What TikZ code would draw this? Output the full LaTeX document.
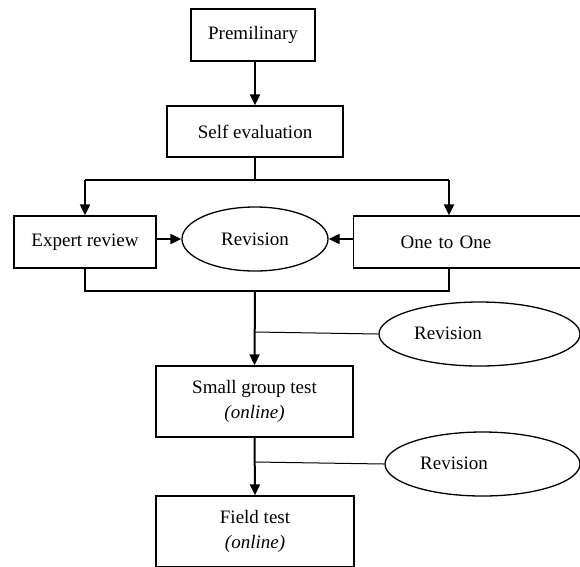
\documentclass[tikz,border=0pt]{standalone}
\usepackage{fontspec}
\setmainfont{Liberation Serif}
\usetikzlibrary{arrows.meta}
\usetikzlibrary{shapes}

\begin{document}
\begin{tikzpicture}[x=1pt,y=1pt,yscale=-1,xscale=1,
  box/.style={draw,line width=1.3pt,rectangle,inner sep=0pt,align=center,font=\fontsize{19}{25}\selectfont},
  oval/.style={draw,line width=1.3pt,ellipse,inner sep=0pt,font=\fontsize{19}{25}\selectfont},
  lbl/.style={inner sep=1pt,font=\fontsize{19}{25}\selectfont},
  flow/.style={line width=2pt,-{Triangle[length=11pt,width=10pt]}},
  link/.style={line width=1.4pt},
  thin/.style={line width=1pt}]
%set diagram window 580 x 566
\clip (0,0) rectangle (580,566);

%Shape: Rectangle [id:prem]
\node[box,minimum width=124,minimum height=52] (prem) at (253,35) {Premilinary};
%Shape: Rectangle [id:self]
\node[box,minimum width=176,minimum height=51] (self) at (255,131.5) {Self evaluation};
%Shape: Rectangle [id:expert]
\node[box,minimum width=142,minimum height=52] (expert) at (85,242) {Expert review};
%Shape: Ellipse [id:rev1]
\node[oval,minimum width=146,minimum height=64] (rev1) at (255,239) {Revision};
%Shape: Rectangle [id:one]
\node[box,anchor=west,minimum height=52,inner xsep=47,text width=160,align=left] (one) at (353,242) {One to One};
%Shape: Ellipse [id:rev2]
\node[oval,minimum width=201,minimum height=64] (rev2) at (479.5,334) {};
%Shape: Rectangle [id:small]
\node[box,minimum width=197,minimum height=71] (small) at (254.5,401.5) {Small group test\\\textit{(online)}};
%Shape: Ellipse [id:rev3]
\node[oval,minimum width=195,minimum height=64] (rev3) at (482.5,464) {};
%Shape: Rectangle [id:field]
\node[box,minimum width=198,minimum height=71] (field) at (255,531.5) {Field test\\\textit{(online)}};

% Text Node
\node[lbl] (rev2txt) at (448,333) {Revision};
% Text Node
\node[lbl] (rev3txt) at (454,463) {Revision};

%Joints
\coordinate (top) at (255,180);
\coordinate (tl) at (85,180);
\coordinate (tr) at (449,180);
\coordinate (bl) at (85,291);
\coordinate (bm) at (255,291);
\coordinate (br) at (449,291);
\coordinate (j1) at (255,332);
\coordinate (j2) at (255,462);

%Straight Lines
\draw[flow] (prem.south -| self.north) -- (self.north);
\draw[link] (self.south) -- (top);
\draw[link] (tl) -- (tr);
\draw[flow] (tl) -- (expert.north);
\draw[flow] (tr) -- (tr |- one.north);
\draw[flow] (expert.east |- rev1.west) -- (rev1.west);
\draw[flow] (one.west |- rev1.east) -- (rev1.east);
\draw[link] (expert.south) -- (bl) -- (br) -- (br |- one.south);
\draw[flow] (bm) -- (small.north);
\draw[thin] (j1) -- (rev2.west);
\draw[flow] (small.south) -- (field.north);
\draw[thin] (j2) -- (rev3.west);

\end{tikzpicture}
\end{document}
